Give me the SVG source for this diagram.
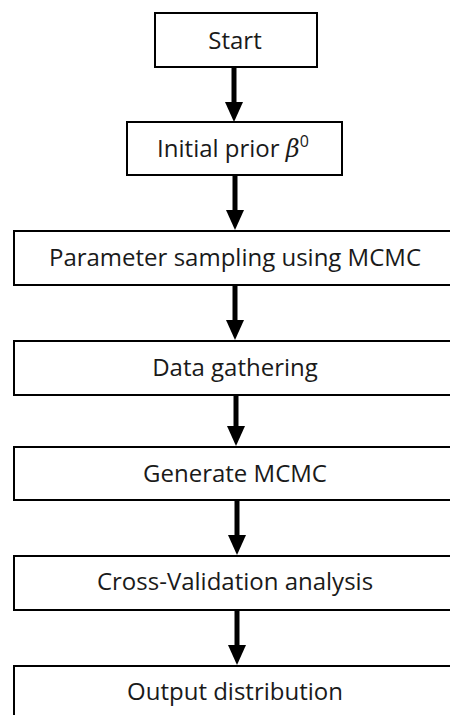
<svg xmlns="http://www.w3.org/2000/svg" width="450" height="715" viewBox="0 0 450 715">
<style>
.box{fill:#fff;stroke:#000;stroke-width:2}
.t{font-family:"Open Sans","Liberation Sans",sans-serif;font-size:24px;fill:#1a1a1a;text-anchor:middle}
.c{stroke:#000;stroke-width:5;fill:none}
</style>
<defs>
<marker id="ah" markerUnits="userSpaceOnUse" viewBox="0 0 20 18" markerWidth="20" markerHeight="18" refX="2" refY="9" orient="auto">
<path d="M0,0 L20,9 L0,18 Z" fill="#000"/>
</marker>
</defs>
<rect width="450" height="715" fill="#fff"/>
<g id="connectors">
<line class="c" x1="234" y1="67" x2="234" y2="104" marker-end="url(#ah)"/>
<line class="c" x1="235" y1="176" x2="235" y2="212" marker-end="url(#ah)"/>
<line class="c" x1="235" y1="286" x2="235" y2="322" marker-end="url(#ah)"/>
<line class="c" x1="236" y1="396" x2="236" y2="428" marker-end="url(#ah)"/>
<line class="c" x1="237" y1="501" x2="237" y2="537" marker-end="url(#ah)"/>
<line class="c" x1="237" y1="611" x2="237" y2="647" marker-end="url(#ah)"/>
</g>
<g id="start"><rect class="box" x="155" y="13" width="162" height="54"/><text class="t" x="235" y="49">Start</text></g>
<g id="prior"><rect class="box" x="127" y="122" width="215" height="53"/><text class="t" x="233" y="157">Initial prior <tspan font-family="'DejaVu Serif',serif" font-style="italic">β</tspan><tspan font-size="16" dy="-10">0</tspan></text></g>
<g id="sampling"><rect class="box" x="14" y="231" width="440" height="54"/><text class="t" x="235" y="266">Parameter sampling using MCMC</text></g>
<g id="data"><rect class="box" x="14" y="341" width="440" height="54"/><text class="t" x="235" y="376">Data gathering</text></g>
<g id="generate"><rect class="box" x="14" y="447" width="440" height="53"/><text class="t" x="235" y="482">Generate MCMC</text></g>
<g id="crossval"><rect class="box" x="14" y="556" width="440" height="54"/><text class="t" x="235" y="590">Cross-Validation analysis</text></g>
<g id="output"><rect class="box" x="14" y="666" width="440" height="60"/><text class="t" x="235" y="700">Output distribution</text></g>
</svg>
